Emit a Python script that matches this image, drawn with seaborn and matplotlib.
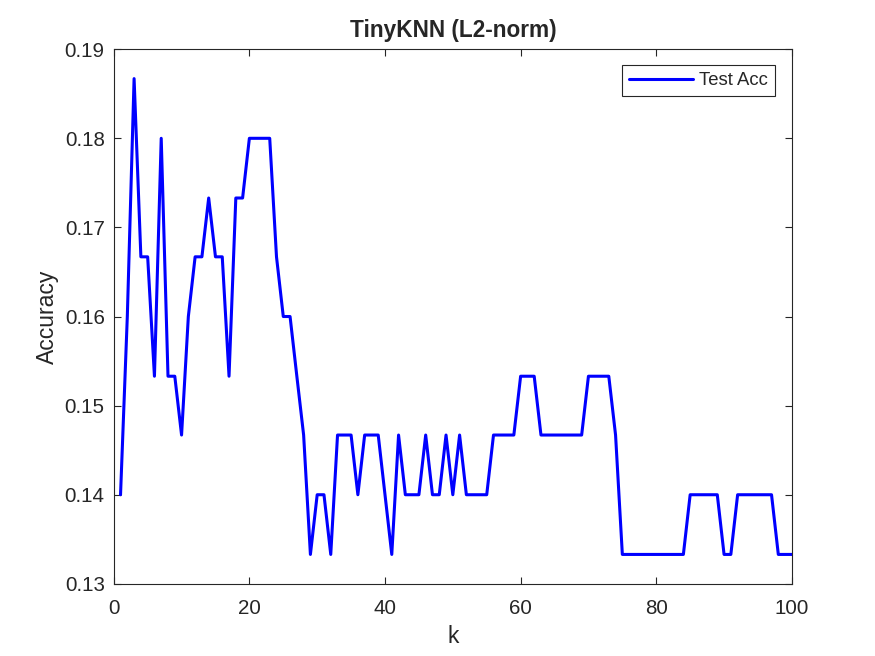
import numpy as np
import pandas as pd
import matplotlib
matplotlib.use("Agg")
import matplotlib.pyplot as plt
import seaborn as sns

# k values and test accuracy
k_values = list(range(1, 101))
test_acc = [
    0.1400, 0.1600, 0.1867, 0.1667, 0.1667, 0.1533, 0.1800, 0.1533, 0.1533, 0.1467,
    0.1600, 0.1667, 0.1667, 0.1733, 0.1667, 0.1667, 0.1533, 0.1733, 0.1733, 0.1800,
    0.1800, 0.1800, 0.1800, 0.1667, 0.1600, 0.1600, 0.1533, 0.1467, 0.1333, 0.1400,
    0.1400, 0.1333, 0.1467, 0.1467, 0.1467, 0.1400, 0.1467, 0.1467, 0.1467, 0.1400,
    0.1333, 0.1467, 0.1400, 0.1400, 0.1400, 0.1467, 0.1400, 0.1400, 0.1467, 0.1400,
    0.1467, 0.1400, 0.1400, 0.1400, 0.1400, 0.1467, 0.1467, 0.1467, 0.1467, 0.1533,
    0.1533, 0.1533, 0.1467, 0.1467, 0.1467, 0.1467, 0.1467, 0.1467, 0.1467, 0.1533,
    0.1533, 0.1533, 0.1533, 0.1467, 0.1333, 0.1333, 0.1333, 0.1333, 0.1333, 0.1333,
    0.1333, 0.1333, 0.1333, 0.1333, 0.1400, 0.1400, 0.1400, 0.1400, 0.1400, 0.1333,
    0.1333, 0.1400, 0.1400, 0.1400, 0.1400, 0.1400, 0.1400, 0.1333, 0.1333, 0.1333,
]
x_ticks = [0, 20, 40, 60, 80, 100]
y_ticks = [0.13, 0.14, 0.15, 0.16, 0.17, 0.18, 0.19]

df = pd.DataFrame({"k": k_values, "acc": test_acc})

sns.set_theme(style="white")
dark = "#262626"
plt.rcParams["font.family"] = ["Liberation Sans", "DejaVu Sans"]
plt.rcParams["axes.edgecolor"] = dark
plt.rcParams["axes.labelcolor"] = dark
plt.rcParams["xtick.color"] = dark
plt.rcParams["ytick.color"] = dark
plt.rcParams["text.color"] = dark

fig = plt.figure(figsize=(8.75, 6.56), dpi=100)
fig.patch.set_facecolor("white")
ax = fig.add_axes([0.13, 0.11, 0.775, 0.815])

sns.lineplot(data=df, x="k", y="acc", ax=ax, color="#0000ff", linewidth=2.2,
             label="Test Acc")

ax.set_xlim(0, 100)
ax.set_ylim(0.13, 0.19)
ax.set_xticks(x_ticks)
ax.set_yticks(y_ticks)
ax.set_xticklabels([str(t) for t in x_ticks])
ax.set_yticklabels([f"{t:.2f}" for t in y_ticks])
ax.tick_params(direction="in", length=5, width=0.8, labelsize=14.8,
               top=True, right=True, bottom=True, left=True)
ax.tick_params(axis="x", pad=11)
ax.tick_params(axis="y", pad=6.5)
for s in ax.spines.values():
    s.set_linewidth(0.8)
    s.set_color(dark)

ax.set_xlabel("k", fontsize=16.5, labelpad=5)
ax.set_ylabel("Accuracy", fontsize=16.5, labelpad=4)
ax.set_title("TinyKNN (L2-norm)", fontsize=16.3, fontweight="bold", pad=8.5)

leg = ax.legend(loc="upper right", bbox_to_anchor=(0.975, 0.97), borderaxespad=0,
                fontsize=13.3, frameon=True, fancybox=False, framealpha=1,
                edgecolor=dark, handlelength=3.45, handletextpad=0.33,
                borderpad=0.38)
leg.get_frame().set_linewidth(0.8)

fig.savefig("out.png", dpi=100)
